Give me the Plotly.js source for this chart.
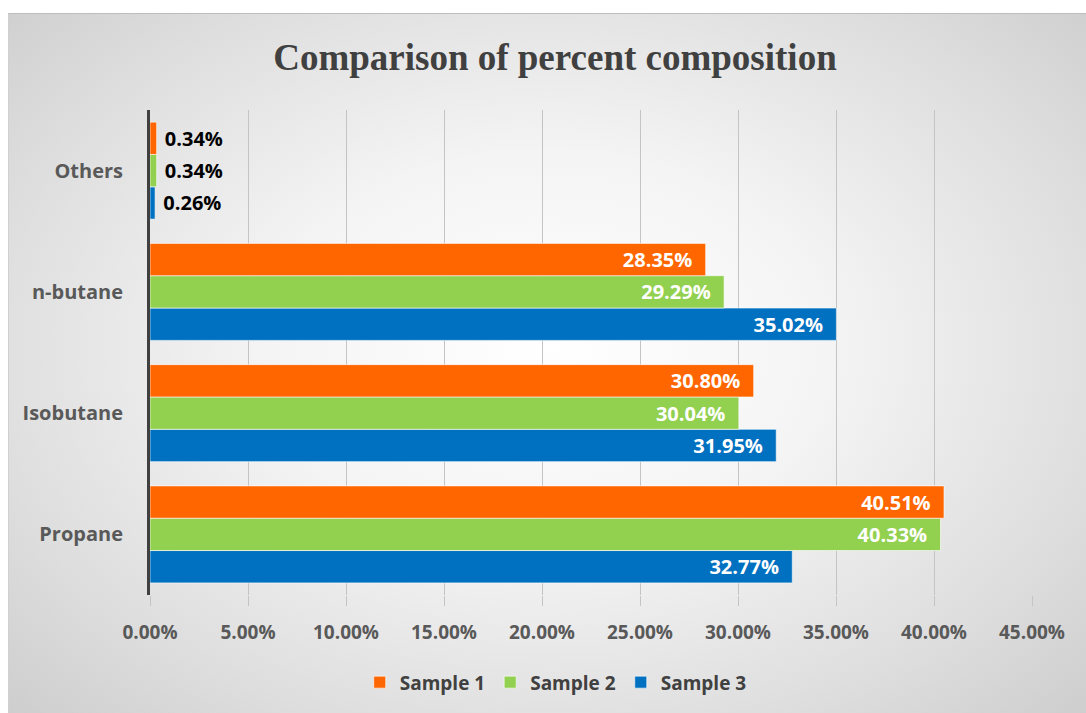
<!DOCTYPE html>
<html>
<head>
<meta charset="utf-8">
<script src="https://cdn.plot.ly/plotly-3.0.1.min.js"></script>
<style>
  html, body { margin:0; padding:0; background:#ffffff; }
  #wrap { position:relative; width:1086px; height:713px; }
  #bg { position:absolute; left:8px; top:13px; width:1078px; height:700px;
        background: radial-gradient(ellipse 75% 80% at 50% 48%, #ffffff 0%, #f4f4f4 35%, #dedede 70%, #c9c9c9 100%);
        border-top:1px solid #bdbdbd; border-left:1px solid #d0d0d0; box-sizing:border-box; }
  #chart { position:absolute; left:0; top:0; width:1086px; height:713px; }
</style>
</head>
<body>
<div id="wrap"><div id="bg"></div><div id="chart"></div></div>
<script>
const categories = ['Propane', 'Isobutane', 'n-butane', 'Others'];
const sample1 = [40.51, 30.80, 28.35, 0.34];
const sample2 = [40.33, 30.04, 29.29, 0.34];
const sample3 = [32.77, 31.95, 35.02, 0.26];
const seriesNames = ['Sample 1', 'Sample 2', 'Sample 3'];
const colors = ['#FF6600', '#92D050', '#0070C0'];
const xTicks = [0, 5, 10, 15, 20, 25, 30, 35, 40, 45];

const NB = '\u00a0';
function positions(vals) { return vals.map(v => v < 5 ? 'outside' : 'inside'); }
function labels(vals) { return vals.map(v => v < 5 ? NB + v.toFixed(2) + '%' : v.toFixed(2) + '%' + NB + NB); }

function mk(vals, i) {
  return {
    type: 'bar', orientation: 'h', name: seriesNames[i],
    y: categories, x: vals,
    marker: { color: colors[i], line: { color: 'rgba(255,255,255,0.6)', width: 1 } },
    text: labels(vals),
    texttemplate: '%{text}',
    textposition: positions(vals),
    insidetextanchor: 'end',
    constraintext: 'none',
    cliponaxis: false,
    insidetextfont: { family: 'Open Sans, sans-serif', size: 20, color: '#ffffff', weight: 'bold' },
    outsidetextfont: { family: 'Open Sans, sans-serif', size: 20, color: '#000000', weight: 'bold' },
    hoverinfo: 'x+y'
  };
}

const data = [mk(sample3, 2), mk(sample2, 1), mk(sample1, 0)];

const layout = {
  width: 1086, height: 713,
  paper_bgcolor: 'rgba(0,0,0,0)', plot_bgcolor: 'rgba(0,0,0,0)',
  margin: { l: 150, r: 54, t: 110, b: 114 },
  title: { text: 'Comparison of percent composition', x: 0.511, xanchor: 'center', y: 0.92, yanchor: 'middle',
           font: { family: 'Liberation Serif, Times New Roman, serif', size: 37, color: '#404040', weight: 'bold' } },
  barmode: 'group', bargap: 0.2, bargroupgap: 0,
  xaxis: {
    range: [0, 45], tickvals: xTicks, ticktext: xTicks.map(v => v.toFixed(2) + '%'),
    showgrid: true, gridcolor: '#c4c4c4', gridwidth: 1, zeroline: false,
    ticks: 'outside', ticklen: 10, tickcolor: '#c4c4c4', ticklabelstandoff: 10,
    tickfont: { family: 'Open Sans, sans-serif', size: 19, color: '#595959', weight: 'bold' },
    showline: false, fixedrange: true
  },
  yaxis: {
    type: 'category', categoryorder: 'array', categoryarray: categories,
    showline: true, linecolor: '#404040', linewidth: 3, ticks: '', showgrid: false,
    ticklabelstandoff: 20,
    tickfont: { family: 'Open Sans, sans-serif', size: 20, color: '#595959', weight: 'bold' },
    fixedrange: true
  },
  legend: { orientation: 'h', x: 0.46, xanchor: 'center', y: -0.18, yanchor: 'middle', traceorder: 'reversed',
            font: { family: 'Open Sans, sans-serif', size: 19, color: '#404040', weight: 'bold' },
            bgcolor: 'rgba(0,0,0,0)', itemwidth: 30 },
  showlegend: true
};

Plotly.newPlot('chart', data, layout, { displayModeBar: false, staticPlot: true });
</script>
</body>
</html>
